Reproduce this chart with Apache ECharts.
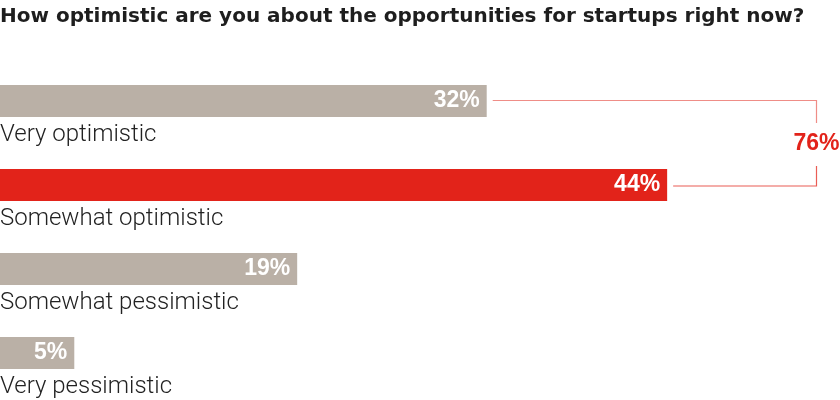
<!DOCTYPE html>
<html><head><meta charset="utf-8">
<script src="https://cdn.jsdelivr.net/npm/echarts@6/dist/echarts.min.js"></script>
<style>html,body{margin:0;padding:0;background:#fff}#c{width:840px;height:400px}</style>
</head><body><div id="c"></div>
<script>
const titleText = 'How optimistic are you about the opportunities for startups right now?';
const categories = ['Very optimistic', 'Somewhat optimistic', 'Somewhat pessimistic', 'Very pessimistic'];
const barLengths = [32.1, 44, 19.6, 4.9];
const labelPercents = [32, 44, 19, 5];
const barColors = ['#bab0a6', '#e2231a', '#bab0a6', '#bab0a6'];
const bracketPair = [0, 1];

const chart = echarts.init(document.getElementById('c'), null, {renderer: 'canvas'});
const RED = '#e2231a';
chart.setOption({
  animation: false,
  title: {text: titleText, left: 0, top: 7, padding: 0,
    textStyle: {fontFamily: 'DejaVu Sans', fontWeight: 'bold', fontSize: 20, color: '#1e1e1e'}},
  grid: {left: 0, right: 0, top: 59, bottom: 5, containLabel: false, outerBoundsMode: 'none'},
  xAxis: {type: 'value', min: 0, max: 55.4, show: false},
  yAxis: {type: 'category', data: categories, inverse: true, show: false},
  series: [{
    type: 'bar', barWidth: 32,
    data: barLengths.map((v, i) => ({value: v, itemStyle: {color: barColors[i]}})),
    label: {show: true, position: 'insideRight', distance: 7,
      formatter: p => labelPercents[p.dataIndex] + '%',
      fontFamily: 'Liberation Sans', fontWeight: 'bold', fontSize: 23, color: '#fff'}
  }, {
    type: 'custom', silent: true, clip: false,
    encode: {x: 0, y: 1},
    data: categories.map((c, i) => [0, i]),
    renderItem: function (params, api) {
      const p = api.coord([api.value(0), api.value(1)]);
      return {type: 'text', x: p[0], y: p[1] + 34,
        style: {text: categories[params.dataIndex], align: 'left', verticalAlign: 'middle',
          fill: '#222', font: '300 24px Roboto'}};
    }
  }, {
    type: 'custom', silent: true, clip: false,
    encode: {x: [0, 2], y: [1, 3]},
    data: [[barLengths[bracketPair[0]], bracketPair[0], barLengths[bracketPair[1]], bracketPair[1]]],
    renderItem: function (params, api) {
      const p0 = api.coord([api.value(0), api.value(1)]);
      const p1 = api.coord([api.value(2), api.value(3)]);
      const xr = Math.round(api.getWidth() - 24) + 0.5;
      const mid = (p0[1] + p1[1]) / 2 + 1;
      const total = labelPercents[bracketPair[0]] + labelPercents[bracketPair[1]];
      return {type: 'group', children: [
        {type: 'polyline', shape: {points: [[p0[0] + 6, p0[1] - 0.5], [xr, p0[1] - 0.5], [xr, mid - 21]]},
          style: {stroke: '#ef8d87', lineWidth: 1.2, fill: null}},
        {type: 'polyline', shape: {points: [[xr, mid + 22], [xr, p1[1] + 1], [p1[0] + 6, p1[1] + 1]]},
          style: {stroke: '#ea5d55', lineWidth: 1.2, fill: null}},
        {type: 'text', x: xr, y: mid, style: {text: total + '%', align: 'center', verticalAlign: 'middle',
          fill: RED, font: 'bold 23px "Liberation Sans"'}}
      ]};
    }
  }]
});
</script></body></html>
